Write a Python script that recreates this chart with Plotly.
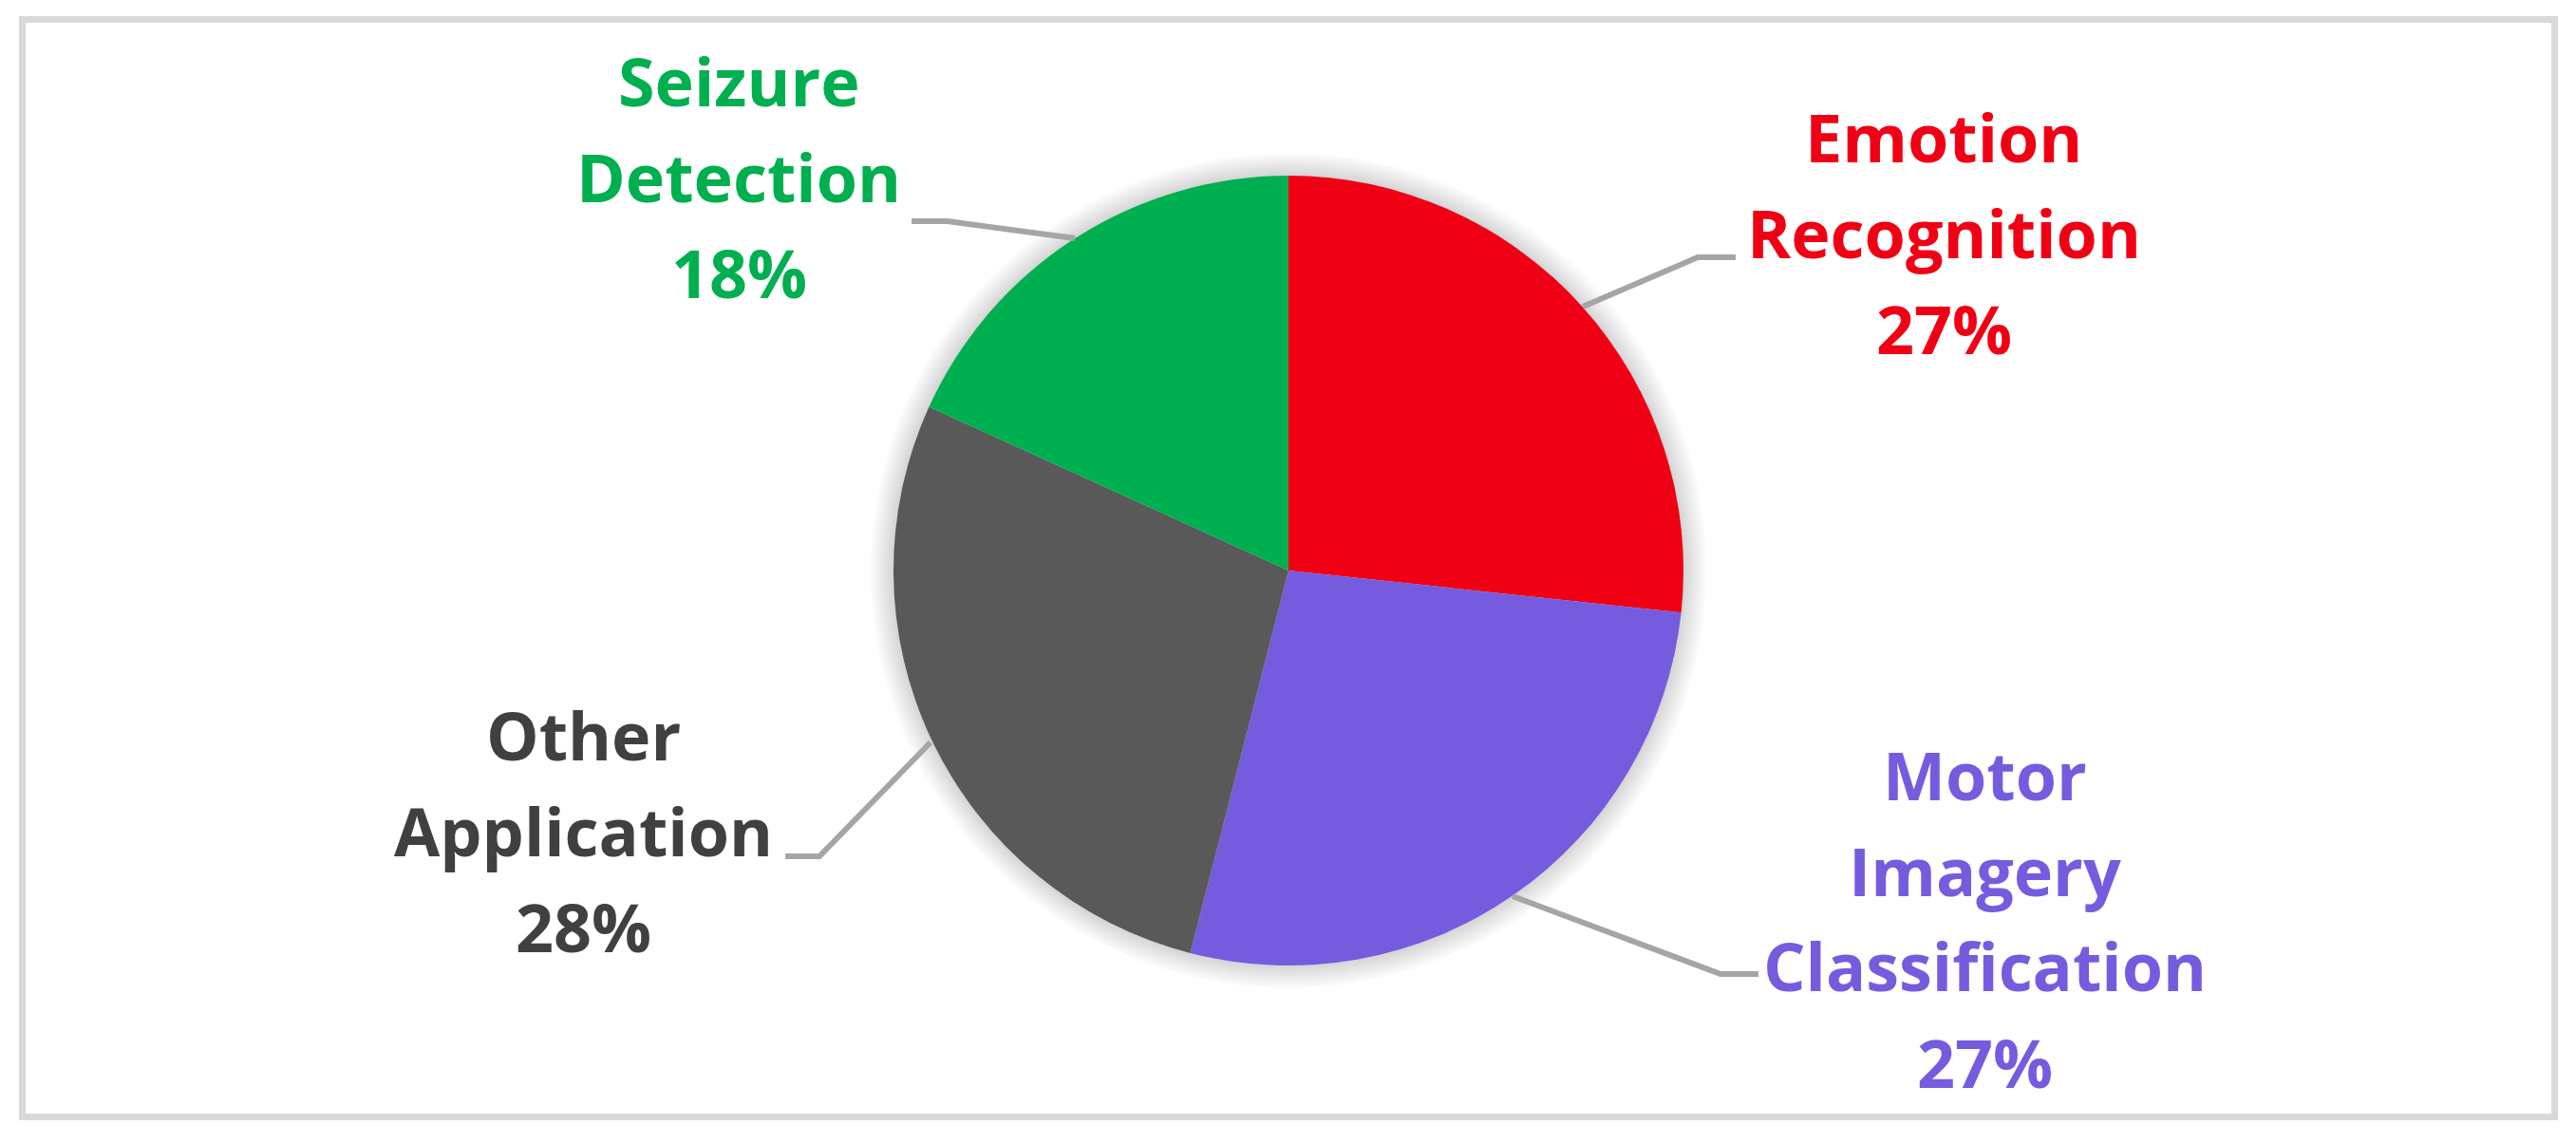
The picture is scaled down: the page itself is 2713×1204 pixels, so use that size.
"""Pie chart: share of EEG application areas."""
import plotly.graph_objects as go

# page body has an 8px margin, so the figure is 16px smaller and shifted
OFF = 8
W, H = 2713 - 2 * OFF, 1204 - 2 * OFF

categories = ["Emotion<br>Recognition", "Motor<br>Imagery<br>Classification", "Other<br>Application", "Seizure<br>Detection"]
values = [26.7, 27.3, 27.8, 18.2]
colors = ["#F00014", "#755CDF", "#595959", "#00AF50"]
text_colors = ["#F00014", "#755CDF", "#404040", "#00AF50"]

# label block centres (page px) and leader line points (page px)
label_pos = [(2047, 245), (2090, 967), (614, 875), (778, 186)]
line_step = 101
leaders = [
    [(1667, 323), (1788, 271), (1828, 271)],
    [(1593, 944), (1812, 1026), (1852, 1026)],
    [(980, 782), (863, 902), (827, 902)],
    [(1132, 251), (998, 233), (960, 233)],
]

cx, cy, r = 1357, 601, 416


def px(x, y):
    return (x - OFF) / W, 1 - (y - OFF) / H


fig = go.Figure()

# soft glow around the pie
for k in range(1, 9):
    rr = r + 3 * k
    x0, y1 = px(cx - rr, cy - rr)
    x1, y0 = px(cx + rr, cy + rr)
    fig.add_shape(type="circle", xref="paper", yref="paper", x0=x0, x1=x1, y0=y0, y1=y1,
                  fillcolor="rgba(0,0,0,0.018)", line=dict(width=0), layer="below")

dx0, dy1 = px(cx - r, cy - r)
dx1, dy0 = px(cx + r, cy + r)
fig.add_trace(
    go.Pie(
        labels=categories,
        values=values,
        sort=False,
        direction="clockwise",
        rotation=0,
        marker=dict(colors=colors, line=dict(width=0)),
        textinfo="none",
        hoverinfo="label+percent",
        showlegend=False,
        domain=dict(x=[dx0, dx1], y=[dy0, dy1]),
    )
)

total = sum(values)
for cat, v, col, (lx, ly) in zip(categories, values, text_colors, label_pos):
    lines = cat.split("<br>") + [f"{round(v / total * 100)}%"]
    n = len(lines)
    for i, t in enumerate(lines):
        ax, ay = px(lx, ly + (i - (n - 1) / 2) * line_step)
        fig.add_annotation(
            x=ax, y=ay, xref="paper", yref="paper", xanchor="center", yanchor="middle",
            text=t, showarrow=False,
            font=dict(family="Open Sans", size=70, color=col, weight="bold"),
        )

for pts in leaders:
    path = "M " + " L ".join("{},{}".format(*px(x, y)) for x, y in pts)
    fig.add_shape(type="path", path=path, xref="paper", yref="paper", line=dict(color="#A5A5A5", width=6))

# chart-area border
bx0, by1 = px(23.5, 20.5)
bx1, by0 = px(2690.5, 1176.5)
fig.add_shape(type="rect", xref="paper", yref="paper", x0=bx0, x1=bx1, y0=by0, y1=by1,
              line=dict(color="#D9D9D9", width=7))

fig.update_layout(
    width=W, height=H,
    margin=dict(l=0, r=0, t=0, b=0),
    paper_bgcolor="white", plot_bgcolor="white",
)
fig.write_html("out.html")
